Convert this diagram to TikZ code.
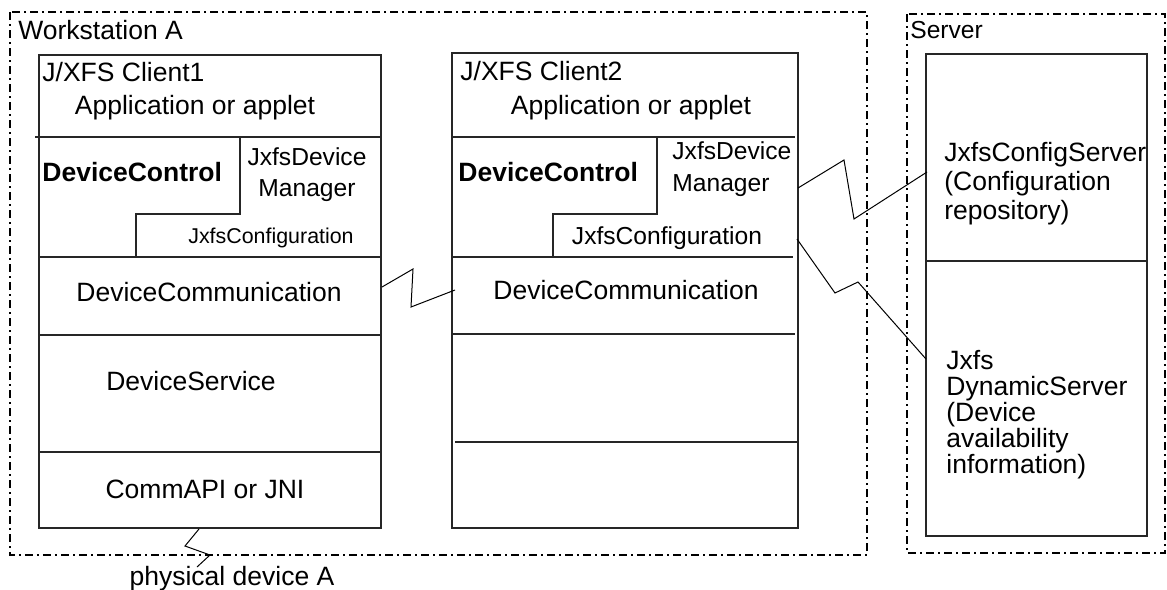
\documentclass[tikz,border=0pt]{standalone}
\usepackage{fontspec}
\setmainfont{Liberation Sans}
\usetikzlibrary{positioning}

\begin{document}
\begin{tikzpicture}[x=0.5pt,y=-0.5pt,
	frame/.style={line width=0.9pt,dash pattern=on 4pt off 2pt on 1pt off 2pt},
	layer/.style={line width=0.6pt,black!85},
	txt/.style={inner sep=0pt,font=\fontsize{13.25}{15}\selectfont},
	smalltxt/.style={inner sep=0pt,font=\fontsize{12.3}{15.5}\selectfont},
	link/.style={line width=0.5pt}]
	\useasboundingbox (0,0) rectangle (1167,589);
	% outer frames
	\draw[frame] (10,12) rectangle (867,555);
	\node[txt,anchor=west] (wsA) at (18,30) {Workstation A};
	\draw[frame] (907,14) rectangle (1165,553);
	\node[smalltxt,anchor=west] (srv) at (910,30) {Server};
	% client 1
	\draw[layer] (39,55) rectangle (381,528);
	\draw[layer] (35,137) -- (381,137);
	\draw[layer] (39,257) -- (381,257);
	\draw[layer] (39,335) -- (381,335);
	\draw[layer] (39,452) -- (381,452);
	\draw[layer] (240,137) -- (240,214) -- (136,214) -- (136,257);
	\node[txt,anchor=west] (cl1) at (42,72) {J/XFS Client1};
	\node[txt] (app1) at (195,108) {Application or applet};
	\node[txt,anchor=west,font=\fontsize{13.25}{15}\selectfont\bfseries] (ctl1) at (42,172) {DeviceControl};
	\node[smalltxt,align=center] (mgr1) at (307,175) {JxfsDevice\\Manager};
	\node[inner sep=0pt,font=\fontsize{10.7}{13}\selectfont] (cfg1) at (271,238) {JxfsConfiguration};
	\node[txt] (comm1) at (209,292) {DeviceCommunication};
	\node[txt] (svc1) at (191,381) {DeviceService};
	\node[txt] (api1) at (205,489) {CommAPI or JNI};
	% client 2
	\draw[layer] (452,53) rectangle (798,528);
	\draw[layer] (452,137) -- (795,137);
	\draw[layer] (452,257) -- (793,257);
	\draw[layer] (452,334) -- (795,334);
	\draw[layer] (455,442) -- (798,442);
	\draw[layer] (657,137) -- (657,214) -- (553,214) -- (553,257);
	\node[txt,anchor=west] (cl2) at (460,71) {J/XFS Client2};
	\node[txt] (app2) at (631,108) {Application or applet};
	\node[txt,anchor=west,font=\fontsize{13.25}{15}\selectfont\bfseries] (ctl2) at (458,172) {DeviceControl};
	\node[smalltxt,align=left,anchor=west,font=\fontsize{12.3}{16}\selectfont] (mgr2) at (672,169) {JxfsDevice\\Manager};
	\node[smalltxt] (cfg2) at (667,238) {JxfsConfiguration};
	\node[txt] (comm2) at (626,290) {DeviceCommunication};
	% server
	\draw[layer] (926,54) rectangle (1147,536);
	\draw[layer] (926,261) -- (1147,261);
	\node[txt,align=left,anchor=west,font=\fontsize{13.25}{14.5}\selectfont] (cfgsrv) at (944,184) {JxfsConfigServer\\(Configuration\\repository)};
	\node[txt,align=left,anchor=west,font=\fontsize{13.25}{13}\selectfont] (dynsrv) at (946,415) {Jxfs\\DynamicServer\\(Device\\availability\\information)};
	% connection ends
	\coordinate (c1out) at (382,287);
	\coordinate (c2in) at (455,290);
	\coordinate (mgrout) at (798,188);
	\coordinate (cfgsrvin) at (927,172);
	\coordinate (cfgout) at (797,239);
	\coordinate (dynin) at (926,359);
	\coordinate (api1out) at (199,529);
	% zigzag links
	\draw[link] (c1out) -- (413,269) -- (411,307) -- (c2in);
	\draw[link] (mgrout) -- (844,160) -- (854,219) -- (cfgsrvin);
	\draw[link] (cfgout) -- (835,293) -- (858,282) -- (dynin);
	\draw[link] (api1out) -- (185,546) -- (210,555) -- (197,567) coordinate (devA);
	\node[txt,anchor=north] (physA) at (232,566) {physical device A};
\end{tikzpicture}
\end{document}
